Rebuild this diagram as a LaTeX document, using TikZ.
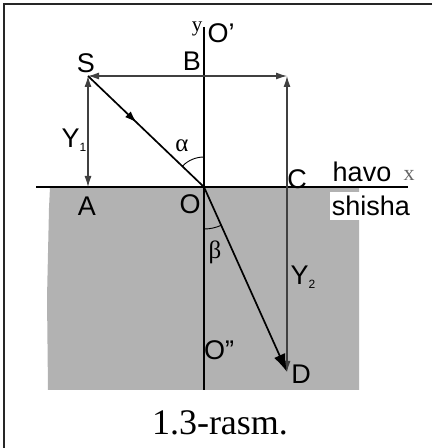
\documentclass[tikz,border=0pt]{standalone}
\usepackage{fontspec}
\setmainfont{Liberation Serif}
\setsansfont{Liberation Sans}
\usetikzlibrary{arrows.meta,calc}

\tikzset{
  lbl/.style={inner sep=0pt, font=\sffamily\fontsize{27}{30}\selectfont},
  greek/.style={inner sep=0pt, font=\rmfamily\fontsize{25}{27}\selectfont},
  ray/.style={line width=1.7pt, black},
  dim/.style={line width=1.1pt, black!75, {Latex[length=11pt,width=7pt]}-{Latex[length=11pt,width=7pt]}},
}
\newcommand{\subidx}[1]{{\fontsize{12}{12}\selectfont\raisebox{-4pt}{#1}}}

\begin{document}
\begin{tikzpicture}[x=1pt, y=1pt]
  \useasboundingbox (0,0) rectangle (432,448);
  % frame (only top and left edge visible)
  \draw[line width=2.4pt, black!85] (432,444) -- (4,444) -- (4,0);
  % glass
  \fill[black!30] (50,261) -- (359,261) -- (359,58) -- (48,58) -- (47,150) -- (49,240) -- cycle;
  % points
  \coordinate (S) at (88,372);
  \coordinate (A) at (88,261);
  \coordinate (O) at (204,261);
  \coordinate (Bp) at (204,372);
  \coordinate (E) at (287,372);
  \coordinate (C) at (287,261);
  \coordinate (D) at (287,76);
  \coordinate (Ntop) at (204,421);
  \coordinate (Nbot) at (204,58);
  \coordinate (Lleft) at (36,261);
  \coordinate (Lright) at (408,261);
  % interface and normal
  \draw[line width=1.5pt] (Lleft) -- (Lright);
  \draw[line width=1.5pt] (Ntop) -- (Nbot);
  % distances
  \draw[dim] (S) -- (E);
  \draw[dim] (S) -- (A);
  \draw[dim] (E) -- (D);
  % incident and refracted rays
  \draw[ray, -{Latex[length=12pt,width=8pt]}] (S) -- ($(S)!0.42!(O)$);
  \draw[ray] ($(S)!0.38!(O)$) -- (O);
  \draw[ray, -{Latex[length=18pt,width=12pt]}] (O) -- (D);
  % angles
  \draw[line width=0.9pt] ($(O)+(90:30)$) arc (90:136:30);
  \draw[line width=0.9pt] ($(O)+(270:42)$) arc (270:294:42);
  % labels
  \node[lbl] (labS) at (86,385) {S};
  \node[lbl] (labB) at (192,387) {B};
  \node[greek, font=\rmfamily\fontsize{21}{22}\selectfont] (laby) at (197,419) {y};
  \node[lbl] (labO1) at (221,415) {O'};
  \node[lbl] (labY1) at (74,308) {Y\subidx{1}};
  \node[greek] (labal) at (182,302) {α};
  \node[lbl] (labC) at (297,269) {C};
  \node[lbl] (labhavo) at (362,276) {havo};
  \node[greek, text=black!60, font=\rmfamily\fontsize{22}{24}\selectfont] (labx) at (409,273) {x};
  \node[lbl, fill=white, inner xsep=2pt, inner ysep=4pt] (labshisha) at (371,242) {shisha};
  \node[lbl] (labA) at (87,242) {A};
  \node[lbl] (labO) at (190,244) {O};
  \node[greek] (labbe) at (215,196) {β};
  \node[lbl] (labY2) at (303,171) {Y\subidx{2}};
  \node[lbl] (labO2) at (219,98) {O"};
  \node[lbl] (labD) at (301,74) {D};
  \node[inner sep=0pt, font=\rmfamily\fontsize{36}{40}\selectfont] (caption) at (220,25) {1.3-rasm.};
\end{tikzpicture}
\end{document}
